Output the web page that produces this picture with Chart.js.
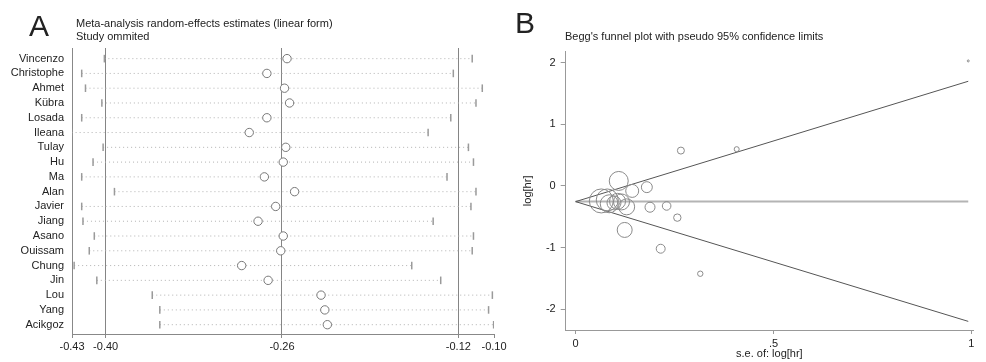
<!DOCTYPE html>
<html>
<head>
<meta charset="utf-8">
<script src="https://cdn.jsdelivr.net/npm/chart.js@4.4.0/dist/chart.umd.min.js"></script>
<style>
body{margin:0;background:#fff;width:986px;height:362px;overflow:hidden;position:relative;font-family:"Liberation Sans",Arial,sans-serif;color:#222}
.panel{position:absolute;top:0;height:362px}
#boxA{left:0;width:510px}
#boxB{left:510px;width:476px}
.big{position:absolute;font-size:30px;line-height:30px}
.cap{position:absolute;font-size:11px;line-height:13.4px;white-space:nowrap}
</style>
</head>
<body>
<div class="panel" id="boxA"><canvas id="chartA"></canvas></div>
<div class="panel" id="boxB"><canvas id="chartB"></canvas></div>
<div class="big" style="left:29px;top:11px">A</div>
<div class="cap" style="left:76px;top:17px">Meta-analysis random-effects estimates (linear form)<br>Study ommited</div>
<div class="big" style="left:515px;top:8px">B</div>
<div class="cap" style="left:565px;top:30px">Begg's funnel plot with pseudo 95% confidence limits</div>
<script>
// panel A: leave-one-out estimates
var studies = ["Vincenzo","Christophe","Ahmet","Kübra","Losada","Ileana","Tulay","Hu","Ma","Alan",
               "Javier","Jiang","Asano","Ouissam","Chung","Jin","Lou","Yang","Acikgoz"];
var estimate = [-0.256,-0.272,-0.258,-0.254,-0.272,-0.286,-0.257,-0.259,-0.274,-0.250,
                -0.265,-0.279,-0.259,-0.261,-0.292,-0.271,-0.229,-0.226,-0.224];
var lowerCI = [-0.401,-0.419,-0.416,-0.403,-0.419,-0.427,-0.402,-0.410,-0.419,-0.393,
               -0.419,-0.418,-0.409,-0.413,-0.425,-0.407,-0.363,-0.357,-0.357];
var upperCI = [-0.109,-0.124,-0.101,-0.106,-0.126,-0.144,-0.112,-0.108,-0.129,-0.106,
               -0.110,-0.140,-0.108,-0.109,-0.157,-0.134,-0.093,-0.096,-0.092];
var refLines = [-0.40, -0.26, -0.12];
var axisRangeA = [-0.4267, -0.0917];
var axisEndLabels = ["-0.43", "-0.10"];

// panel B: funnel plot
var seLogHr = [0.065,0.080,0.085,0.097,0.106,0.116,0.129,0.143,0.109,0.180,
               0.188,0.230,0.257,0.124,0.215,0.315,0.266,0.407,0.992];
var logHr = [-0.244,-0.228,-0.290,-0.276,-0.250,-0.260,-0.340,-0.081,0.081,-0.020,
             -0.346,-0.325,-0.515,-0.715,-1.020,-1.426,0.574,0.597,2.030];
var studyWeight = [144,121,81,49,64,64,64,42,90,30,25,18.5,13.7,56,20,7.3,12.3,6.3,1];
var pooledLine = [[0, -0.255], [0.992, -0.255]];
var funnelUpper = [[0, -0.255], [0.992, 1.70]];
var funnelLower = [[0, -0.255], [0.992, -2.20]];

var txtFont = {family: "'Liberation Sans', Arial, sans-serif", size: 11};

function readPairs(arr) {
    return arr.map((p) => ({x: p[0], y: p[1]}));
}

function drawCharts() {
    var ciLine = [];
    var ciEnds = [];
    var points = [];
    for (let i = 0; i < studies.length; i++) {
        ciLine.push({x: lowerCI[i], y: i}, {x: upperCI[i], y: i}, {x: null, y: null});
        ciEnds.push({x: lowerCI[i], y: i}, {x: upperCI[i], y: i});
        points.push({x: estimate[i], y: i});
    }

    var dataA = {
        type: 'scatter',
        data: {
            datasets: [
            {
                data: points,
                pointStyle: 'circle',
                pointRadius: 4.2,
                borderColor: '#777',
                backgroundColor: '#fff',
                borderWidth: 1
            },
            {
                data: ciEnds,
                pointStyle: 'line',
                rotation: 90,
                pointRadius: 3.8,
                borderColor: '#9a9a9a',
                borderWidth: 1.5
            },
            {
                type: 'line',
                data: ciLine,
                borderColor: '#b2b2b2',
                borderWidth: 1,
                borderDash: [1, 3],
                pointRadius: 0,
                spanGaps: false
            }
            ]
        },
        options: {
            animation: false,
            responsive: true,
            maintainAspectRatio: false,
            layout: {padding: {top: 48, right: 16, left: 0, bottom: 0}},
            plugins: {legend: {display: false}, tooltip: {enabled: false}},
            scales: {
                x: {
                    type: 'linear',
                    min: axisRangeA[0],
                    max: axisRangeA[1],
                    afterBuildTicks: (s) => {
                        s.ticks = [axisRangeA[0]].concat(refLines, [axisRangeA[1]]).map((v) => ({value: v}));
                    },
                    afterFit: (s) => { s.height = 28; },
                    grid: {
                        color: (c) => (c.tick && refLines.indexOf(c.tick.value) >= 0 ? '#858585' : 'rgba(0,0,0,0)'),
                        tickColor: '#888',
                        tickLength: 4,
                        lineWidth: 1
                    },
                    border: {display: true, color: '#888', width: 1},
                    ticks: {
                        autoSkip: false,
                        maxRotation: 0,
                        padding: 2,
                        color: '#222',
                        font: txtFont,
                        callback: (v, i) => (i == 0 ? axisEndLabels[0] : (i == 4 ? axisEndLabels[1] : v.toFixed(2)))
                    }
                },
                y: {
                    type: 'linear',
                    reverse: true,
                    min: -0.72,
                    max: 18.63,
                    afterBuildTicks: (s) => {
                        s.ticks = studies.map((n, i) => ({value: i}));
                    },
                    afterFit: (s) => { s.width = 72; },
                    grid: {color: 'rgba(0,0,0,0)', drawTicks: false},
                    border: {display: true, color: '#888', width: 1},
                    ticks: {
                        autoSkip: false,
                        padding: 8,
                        color: '#222',
                        font: txtFont,
                        callback: (v) => studies[v]
                    }
                }
            }
        }
    };
    new Chart(document.getElementById('chartA').getContext('2d'), dataA);

    var bubbles = [];
    for (let i = 0; i < seLogHr.length; i++) {
        bubbles.push({x: seLogHr[i], y: logHr[i]});
    }

    var dataB = {
        type: 'scatter',
        data: {
            datasets: [
            {
                data: bubbles,
                pointStyle: 'circle',
                pointRadius: studyWeight.map((w) => Math.sqrt(w)),
                borderColor: '#8a8a8a',
                backgroundColor: 'rgba(0,0,0,0)',
                borderWidth: 1
            },
            {
                type: 'line',
                data: readPairs(funnelUpper),
                borderColor: '#555',
                borderWidth: 1,
                pointRadius: 0
            },
            {
                type: 'line',
                data: readPairs(funnelLower),
                borderColor: '#555',
                borderWidth: 1,
                pointRadius: 0
            },
            {
                type: 'line',
                data: readPairs(pooledLine),
                borderColor: '#b4b4b4',
                borderWidth: 2,
                pointRadius: 0
            }
            ]
        },
        options: {
            animation: false,
            responsive: true,
            maintainAspectRatio: false,
            layout: {padding: {top: 51.7, right: 3.3, left: 0, bottom: 0}},
            plugins: {legend: {display: false}, tooltip: {enabled: false}},
            scales: {
                x: {
                    type: 'linear',
                    min: -0.025,
                    max: 1.004,
                    afterBuildTicks: (s) => {
                        s.ticks = [0, 0.5, 1].map((v) => ({value: v}));
                    },
                    afterFit: (s) => { s.height = 32; },
                    grid: {drawOnChartArea: false, tickColor: '#999', tickLength: 4},
                    border: {display: true, color: '#999', width: 1},
                    ticks: {
                        autoSkip: false,
                        maxRotation: 0,
                        padding: 3,
                        color: '#222',
                        font: txtFont,
                        callback: (v) => (v == 0.5 ? '.5' : String(v))
                    },
                    title: {display: true, text: 's.e. of: log[hr]', color: '#222', font: txtFont, padding: {top: 0, bottom: 1.4}}
                },
                y: {
                    type: 'linear',
                    min: -2.34,
                    max: 2.18,
                    afterBuildTicks: (s) => {
                        s.ticks = [-2, -1, 0, 1, 2].map((v) => ({value: v}));
                    },
                    afterFit: (s) => { s.width = 55.7; },
                    grid: {drawOnChartArea: false, tickColor: '#999', tickLength: 5},
                    border: {display: true, color: '#999', width: 1},
                    ticks: {
                        autoSkip: false,
                        padding: 5,
                        color: '#222',
                        font: txtFont
                    },
                    title: {display: true, text: 'log[hr]', color: '#222', font: txtFont, padding: {top: 11.4, bottom: 0}}
                }
            }
        }
    };
    new Chart(document.getElementById('chartB').getContext('2d'), dataB);
}
window.addEventListener('load', drawCharts, false);
</script>
</body>
</html>
